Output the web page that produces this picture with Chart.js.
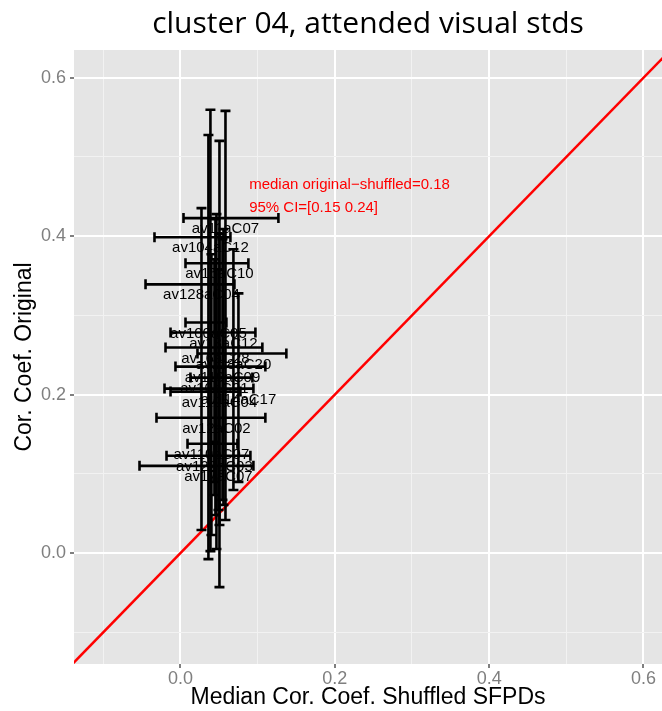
<!DOCTYPE html>
<html>
<head>
<meta charset="utf-8">
<script src="https://cdn.jsdelivr.net/npm/chart.js@4.4.1/dist/chart.umd.min.js"></script>
<style>
body { margin: 0; background: #ffffff; }
canvas { display: block; }
</style>
</head>
<body>
<canvas id="myChart" width="662" height="711"></canvas>
<script>
// dati: un punto per ogni neurone del cluster 04

var etichette = [
    "av11aC07", "av104aC12", "av15aC10", "av128aC04", "av100aC05", "av13aC12",
    "av16aC28", "av118aC20", "av119aC09", "av10aC21", "av114aC17", "av112aC04",
    "av12aC02", "av110aC07", "av122aC03", "av17aC07"
];
// mediana shuffled (asse x)
var mediana = [0.0583, 0.0388, 0.0505, 0.0272, 0.0362, 0.0557, 0.0453, 0.0686,
    0.0544, 0.0440, 0.0751, 0.0505, 0.0466, 0.0401, 0.0440, 0.0492];
var medianaMin = [0.0039, -0.0337, 0.0065, -0.0453, 0.0065, -0.0129, -0.0194, 0.0220,
    -0.0065, 0.0129, -0.0207, -0.0129, -0.0311, 0.0091, -0.0181, -0.0531];
var medianaMax = [0.1269, 0.0647, 0.0880, 0.0699, 0.0595, 0.0971, 0.1061, 0.1372,
    0.1100, 0.0932, 0.0945, 0.0777, 0.1100, 0.0738, 0.0906, 0.0945];
// coefficiente originale (asse y)
var originale = [0.4228, 0.3987, 0.3658, 0.3392, 0.2911, 0.2785, 0.2595, 0.2519,
    0.2354, 0.2215, 0.2076, 0.2038, 0.1709, 0.1380, 0.1228, 0.1101];
var originaleMin = [0.0418, 0.0025, -0.0430, 0.0291, -0.0076, 0.0608, 0.0481, 0.0797,
    0.0671, 0.0734, 0.0899, 0.0354, 0.0051, 0.0228, 0.0899, 0.0544];
var originaleMax = [0.5582, 0.5595, 0.5203, 0.4354, 0.5278, 0.4089, 0.4215, 0.3835,
    0.3962, 0.3709, 0.3278, 0.4025, 0.4278, 0.3772, 0.1405, 0.3582];

var tickX = [-0.1, 0.0, 0.1, 0.2, 0.3, 0.4, 0.5, 0.6];
var tickY = [-0.1, 0.0, 0.1, 0.2, 0.3, 0.4, 0.5, 0.6];

var nota = ["median original\u2212shuffled=0.18", "95% CI=[0.15 0.24]"];
var notaX = 0.089;
var notaY = [0.4646, 0.4354];

var punti = [];
for (var i = 0; i < etichette.length; i++) {
    punti.push({ x: mediana[i], y: originale[i] });
}

function principale(v) {
    return Math.abs(Math.round(v * 10)) % 2 === 0;
}

function griglia() {
    return {
        color: function (c) { return c.tick && principale(c.tick.value) ? "#FFFFFF" : "#F2F2F2"; },
        lineWidth: function (c) { return c.tick && principale(c.tick.value) ? 2 : 1; },
        tickColor: function (c) { return c.tick && principale(c.tick.value) ? "#7F7F7F" : "rgba(0,0,0,0)"; },
        tickLength: 4,
        tickWidth: 2
    };
}

// sfondo grigio stile ggplot
var sfondo = {
    id: "sfondo",
    beforeDraw: function (chart) {
        var a = chart.chartArea;
        var ctx = chart.ctx;
        ctx.save();
        ctx.fillStyle = "#E5E5E5";
        ctx.fillRect(a.left, a.top, a.right - a.left, a.bottom - a.top);
        ctx.restore();
    }
};

// barre di errore, etichette e testo rosso
var barre = {
    id: "barre",
    afterDatasetsDraw: function (chart) {
        var ctx = chart.ctx;
        var sx = chart.scales.x;
        var sy = chart.scales.y;
        var a = chart.chartArea;
        ctx.save();
        ctx.beginPath();
        ctx.rect(a.left, a.top, a.right - a.left, a.bottom - a.top);
        ctx.clip();
        ctx.strokeStyle = "#000000";
        ctx.lineWidth = 2.6;
        for (var i = 0; i < etichette.length; i++) {
            var px = sx.getPixelForValue(mediana[i]);
            var t = sy.getPixelForValue(originaleMax[i]);
            var b = sy.getPixelForValue(originaleMin[i]);
            ctx.beginPath();
            ctx.moveTo(px, t); ctx.lineTo(px, b);
            ctx.moveTo(px - 5, t); ctx.lineTo(px + 5, t);
            ctx.moveTo(px - 5, b); ctx.lineTo(px + 5, b);
            ctx.stroke();
        }
        for (var j = 0; j < etichette.length; j++) {
            var py = sy.getPixelForValue(originale[j]);
            var l = sx.getPixelForValue(medianaMin[j]);
            var r = sx.getPixelForValue(medianaMax[j]);
            ctx.beginPath();
            ctx.moveTo(l, py); ctx.lineTo(r, py);
            ctx.moveTo(l, py - 5); ctx.lineTo(l, py + 5);
            ctx.moveTo(r, py - 5); ctx.lineTo(r, py + 5);
            ctx.stroke();
        }
        ctx.fillStyle = "#000000";
        ctx.font = "15px 'Liberation Sans', Arial, sans-serif";
        ctx.textAlign = "center";
        ctx.textBaseline = "middle";
        for (var k = 0; k < etichette.length; k++) {
            ctx.fillText(etichette[k], sx.getPixelForValue(mediana[k]), sy.getPixelForValue(originale[k]) + 11);
        }
        ctx.fillStyle = "#FF0000";
        ctx.font = "15px 'Liberation Sans', Arial, sans-serif";
        ctx.textAlign = "left";
        for (var n = 0; n < nota.length; n++) {
            ctx.fillText(nota[n], sx.getPixelForValue(notaX), sy.getPixelForValue(notaY[n]));
        }
        ctx.restore();
    }
};

var ctx = document.getElementById("myChart");
var myChart = new Chart(ctx, {
    type: "scatter",
    data: {
        datasets: [
            {
                type: "line",
                data: [{ x: -0.2, y: -0.2 }, { x: 0.7, y: 0.7 }],
                borderColor: "#FF0000",
                borderWidth: 2.5,
                pointRadius: 0
            },
            {
                data: punti,
                pointRadius: 0,
                backgroundColor: "#000000"
            }
        ]
    },
    options: {
        responsive: false,
        animation: false,
        layout: { padding: 0 },
        plugins: {
            legend: { display: false },
            tooltip: { enabled: false },
            title: {
                display: true,
                text: "cluster 04, attended visual stds",
                fullSize: false,
                color: "#000000",
                font: { family: "'Open Sans'", size: 30, weight: "normal" },
                padding: { top: 6, bottom: 8 }
            }
        },
        scales: {
            x: {
                type: "linear",
                min: -0.138,
                max: 0.624,
                afterBuildTicks: function (s) {
                    s.ticks = tickX.map(function (v) { return { value: v }; });
                },
                afterFit: function (s) { s.height = 47; },
                border: { display: false },
                grid: griglia(),
                ticks: {
                    color: "#7F7F7F",
                    padding: 0,
                    maxRotation: 0,
                    font: { family: "'Liberation Sans'", size: 18 },
                    callback: function (v) { return principale(v) ? v.toFixed(1) : ""; }
                },
                title: {
                    display: true,
                    text: "Median Cor. Coef. Shuffled SFPDs",
                    color: "#000000",
                    font: { family: "'Liberation Sans'", size: 23 },
                    padding: { top: 0, bottom: 0 }
                }
            },
            y: {
                type: "linear",
                min: -0.14,
                max: 0.635,
                afterBuildTicks: function (s) {
                    s.ticks = tickY.map(function (v) { return { value: v }; });
                },
                afterFit: function (s) { s.width = 74; },
                border: { display: false },
                grid: griglia(),
                ticks: {
                    color: "#7F7F7F",
                    padding: 4,
                    font: { family: "'Liberation Sans'", size: 18 },
                    callback: function (v) { return principale(v) ? v.toFixed(1) : ""; }
                },
                title: {
                    display: true,
                    text: "Cor. Coef. Original",
                    color: "#000000",
                    font: { family: "'Liberation Sans'", size: 23 },
                    padding: { top: 11, bottom: 0 }
                }
            }
        }
    },
    plugins: [sfondo, barre]
});
</script>
</body>
</html>
